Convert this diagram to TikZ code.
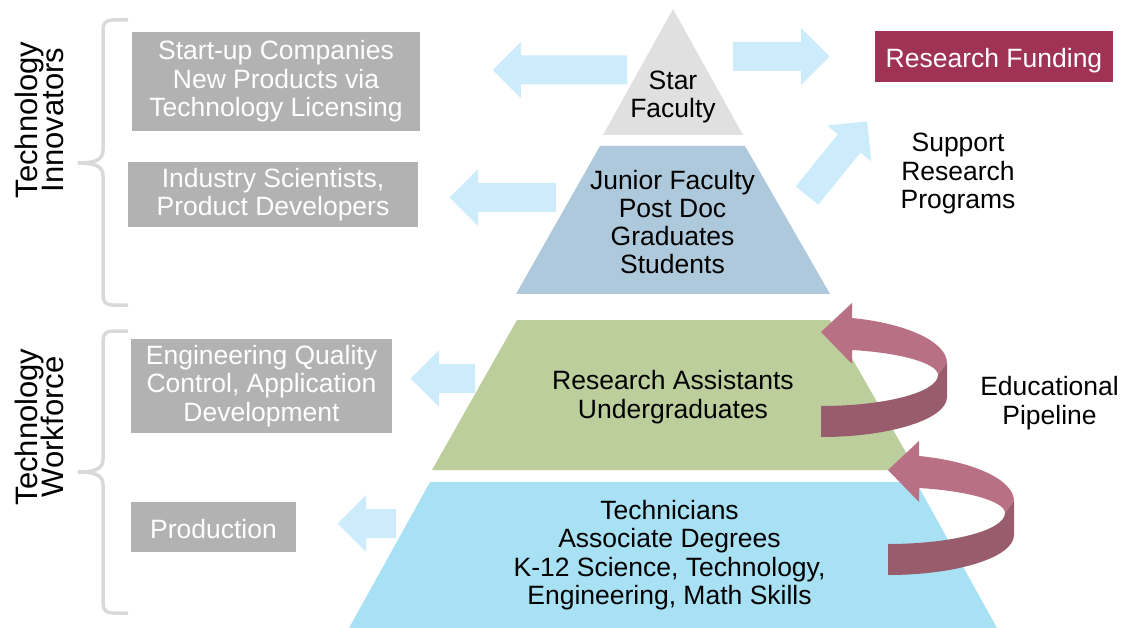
\documentclass[tikz,border=0pt]{standalone}
\usepackage{fontspec}
\setmainfont{Liberation Sans}
\definecolor{stargray}{RGB}{224,224,224}
\definecolor{juniorblue}{RGB}{174,201,219}
\definecolor{assistgreen}{RGB}{187,206,155}
\definecolor{techblue}{RGB}{168,224,244}
\definecolor{arrowblue}{RGB}{204,236,252}
\definecolor{boxgray}{RGB}{178,178,178}
\definecolor{fundred}{RGB}{160,50,85}
\definecolor{pipelight}{RGB}{184,112,132}
\definecolor{pipedark}{RGB}{152,92,108}
\definecolor{bracegray}{RGB}{217,217,217}
\newcommand\capstrut{\rule{0pt}{28pt}}
\newcommand\descstrut{\rule[-5.6pt]{0pt}{5.6pt}}
\newcommand\sidefont{\fontsize{31}{26}\selectfont\lineskiplimit-50pt\relax}

\begin{document}
\begin{tikzpicture}[x=1pt, y=-1pt,
    txt/.style={align=center, font=\fontsize{26.5}{28.3}\selectfont, inner sep=0pt},
    side/.style={align=center, font=\sidefont, inner sep=0pt, rotate=90},
    outbox/.style={txt, fill=boxgray, text=white, execute at begin node=\capstrut, execute at end node=\descstrut},
    flowarrow/.style={fill=arrowblue},
    groupbrace/.style={draw=bracegray, line width=3.5pt}]
  \useasboundingbox (0,0) rectangle (1124,628);

  % braces on the left
  \foreach \ya/\ym/\yb in {20/163/305, 331/472/613}
    \draw[groupbrace] (128,\ya) -- (113,\ya) .. controls (106,\ya) and (103,\ya+3) .. (103,\ya+10)
      -- (103,\ym-13) .. controls (103,\ym-3) and (95,\ym) .. (78,\ym)
      .. controls (95,\ym) and (103,\ym+3) .. (103,\ym+13)
      -- (103,\yb-10) .. controls (103,\yb-3) and (106,\yb) .. (113,\yb) -- (128,\yb);

  % pyramid
  \fill[stargray] (673,9) -- (743,135) -- (603,135) -- cycle;
  \fill[juniorblue] (600,146) -- (745,146) -- (830,294) -- (516,294) -- cycle;
  \fill[assistgreen] (517,320) -- (830,320) -- (916,470) -- (432,470) -- cycle;
  \fill[techblue] (430,482) -- (916,482) -- (997,628) -- (349,628) -- cycle;

  % block arrows
  \foreach \ax/\ay/\rot/\len in {627/70/180/106, 733/56.5/0/68, 807/195.5/51/67,
      556/197.5/180/78, 475/378.5/180/36, 396/523.5/180/30}
    \fill[flowarrow, shift={(\ax,\ay)}, rotate=\rot] (0,-14.5) -- (\len,-14.5) -- (\len,-28.5)
      -- (\len+28.5,0) -- (\len,28.5) -- (\len,14.5) -- (0,14.5) -- cycle;

  % educational pipeline arrows
  \foreach \px/\py in {0/0, 67/138} {
    \begin{scope}[shift={(\px,\py)}]
      \fill[pipelight] (852,318) -- (852,303) -- (821,332) -- (852,364) -- (852,350)
        .. controls (902.8,353) and (938,363.8) .. (938,375) -- (947,363)
        .. controls (947,342.4) and (907.9,323.5) .. (852,318) -- cycle;
      \fill[pipedark] (947,363) -- (938,375)
        .. controls (938,392.1) and (885.6,406) .. (821,406) -- (821,437)
        .. controls (890.6,437) and (947,419.1) .. (947,397) -- cycle;
    \end{scope}
  }

  \node[txt] (star) at (673,97) {Star\\Faculty};
  \node[txt] (junior) at (672.5,222) {Junior Faculty\\Post Doc\\Graduates\\Students};
  \node[txt] (assist) at (673,397) {Research Assistants\\Undergraduates};
  \node[txt] (tech) at (669.5,555) {Technicians\\Associate Degrees\\K-12 Science, Technology,\\Engineering, Math Skills};

  \node[outbox, minimum width=288pt, minimum height=99pt] (startup) at (276,81.5) {Start-up Companies\\New Products via\\Technology Licensing};
  \node[outbox, minimum width=290pt, minimum height=65pt] (industry) at (273,194.5) {Industry Scientists,\\Product Developers};
  \node[outbox, minimum width=261pt, minimum height=94pt] (quality) at (261.5,386) {Engineering Quality\\Control, Application\\Development};
  \node[outbox, minimum width=165pt, minimum height=50pt] (production) at (213.5,527) {Production};
  \node[outbox, fill=fundred, minimum width=238pt, minimum height=51pt] (funding) at (994,56.5) {Research Funding};

  \node[txt] (support) at (958,173.5) {Support\\Research\\Programs};
  \node[txt] (pipeline) at (1049.5,403) {Educational\\Pipeline};

  \node[side] (innovators) at (39,120) {Technology\\Innovators};
  \node[side] (workforce) at (39,427) {Technology\\Workforce};
\end{tikzpicture}
\end{document}
